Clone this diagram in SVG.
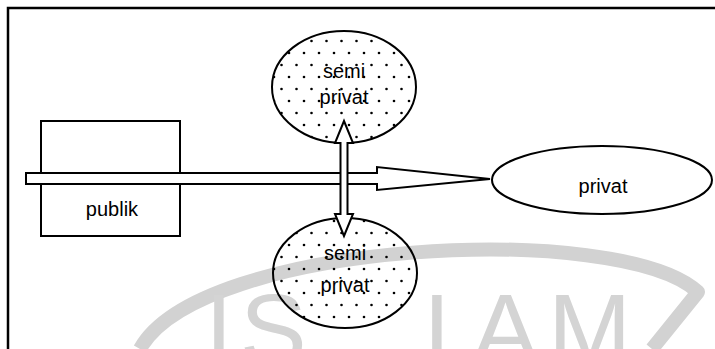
<svg xmlns="http://www.w3.org/2000/svg" width="715" height="349" viewBox="0 0 715 349">
  <defs>
    <pattern id="dots" width="30" height="24" patternUnits="userSpaceOnUse">
      <circle cx="4" cy="5" r="1.3" fill="#000"/>
      <circle cx="19" cy="5" r="1.3" fill="#000"/>
      <circle cx="11.5" cy="17" r="1.3" fill="#000"/>
      <circle cx="26.5" cy="17" r="1.3" fill="#000"/>
    </pattern>
    <clipPath id="frameclip">
      <rect x="0" y="0" width="715" height="349"/>
    </clipPath>
  </defs>
  <style>
    .ln{stroke:#000;stroke-width:2;fill:#fff}
    .dot{stroke:#000;stroke-width:2;fill:url(#dots)}
    .t{font-family:"Liberation Sans",Arial,sans-serif;font-size:20px;fill:#000;text-anchor:middle}
    .wm{fill:none;stroke:#d2d2d2;stroke-width:14;stroke-linejoin:round}
  </style>
  <rect width="715" height="349" fill="#fff"/>
  <g id="watermark" clip-path="url(#frameclip)">
    <path class="wm" d="M140,349 C200,240 620,220 698,292 L652,349"/>
    <text y="364" font-family="'Liberation Sans',Arial,sans-serif" font-size="100" fill="#d4d4d4"><tspan x="205">I</tspan><tspan x="240">S</tspan><tspan x="424">L</tspan><tspan x="472">A</tspan><tspan x="548">M</tspan></text>
  </g>
  <path d="M8,349 V8 H715" fill="none" stroke="#000" stroke-width="2.5"/>
  <g id="publik">
    <rect class="ln" x="41" y="121" width="139" height="115"/>
    <text class="t" x="112" y="216">publik</text>
  </g>
  <g id="semi-privat-atas">
    <ellipse class="dot" cx="344" cy="87" rx="72" ry="56"/>
    <text class="t" x="344" y="78">semi</text>
    <text class="t" x="344" y="104">privat</text>
  </g>
  <g id="semi-privat-bawah">
    <ellipse class="dot" cx="345" cy="273" rx="72" ry="55"/>
    <text class="t" x="345" y="260">semi</text>
    <text class="t" x="345" y="292">privat</text>
  </g>
  <g id="privat">
    <ellipse class="ln" cx="602" cy="180" rx="110" ry="34"/>
    <text class="t" x="603" y="193">privat</text>
  </g>
  <g id="connectors">
    <polygon class="ln" points="26,173 377,173 377,167 490,179 377,190 377,184 26,184"/>
    <polygon class="ln" points="344,121 353,143 347.5,143 347.5,214 353,214 344,236 335,214 340.5,214 340.5,143 335,143"/>
  </g>
</svg>
